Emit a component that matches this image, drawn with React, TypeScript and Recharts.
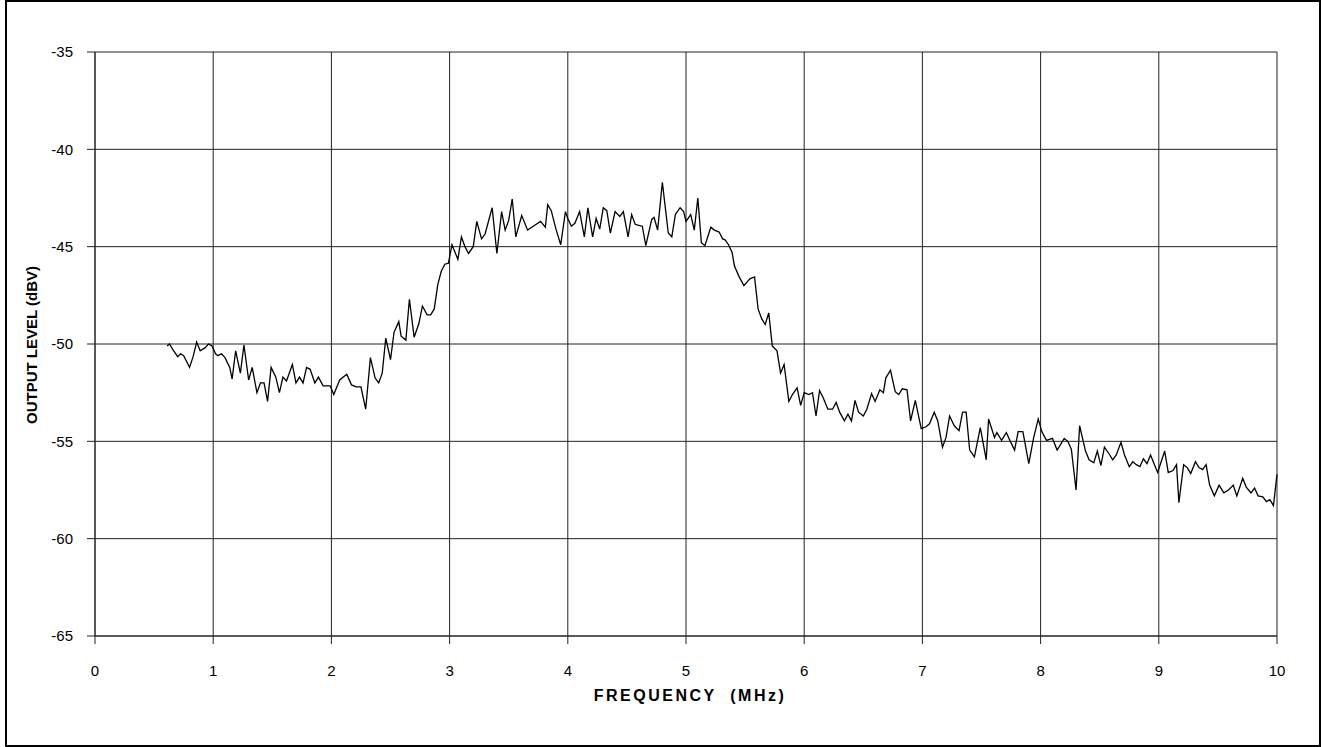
import { LineChart, Line, XAxis, YAxis, CartesianGrid } from 'recharts'

const freqMHz = [
  0.61, 0.63, 0.66, 0.7, 0.725, 0.75, 0.8, 0.83, 0.86, 0.89, 0.93, 0.96, 0.99,
  1.02, 1.04, 1.07, 1.1, 1.14, 1.16, 1.19, 1.23, 1.26, 1.3, 1.33, 1.37, 1.4, 1.43,
  1.46, 1.49, 1.53, 1.56, 1.59, 1.62, 1.67, 1.7, 1.73, 1.76, 1.79, 1.82, 1.86,
  1.89, 1.93, 1.99, 2.02, 2.07, 2.13, 2.17, 2.21, 2.25, 2.29, 2.33, 2.37, 2.4,
  2.43, 2.46, 2.5, 2.53, 2.57, 2.59, 2.63, 2.66, 2.7, 2.74, 2.77, 2.81, 2.84,
  2.87, 2.9, 2.93, 2.96, 2.99, 3.02, 3.07, 3.1, 3.13, 3.16, 3.2, 3.23, 3.27, 3.3,
  3.36, 3.4, 3.44, 3.47, 3.5, 3.53, 3.56, 3.61, 3.66, 3.72, 3.77, 3.81, 3.83,
  3.86, 3.9, 3.94, 3.98, 4.0, 4.03, 4.06, 4.1, 4.14, 4.17, 4.21, 4.24, 4.27, 4.3,
  4.33, 4.36, 4.4, 4.44, 4.47, 4.51, 4.54, 4.57, 4.6, 4.63, 4.66, 4.71, 4.73,
  4.76, 4.8, 4.85, 4.88, 4.91, 4.95, 4.98, 5.0, 5.04, 5.07, 5.1, 5.13, 5.16, 5.21,
  5.24, 5.28, 5.31, 5.33, 5.36, 5.39, 5.41, 5.45, 5.49, 5.54, 5.58, 5.61, 5.64,
  5.67, 5.7, 5.73, 5.77, 5.8, 5.83, 5.87, 5.9, 5.94, 5.97, 6.0, 6.04, 6.07, 6.1,
  6.13, 6.16, 6.2, 6.24, 6.27, 6.3, 6.34, 6.37, 6.4, 6.43, 6.46, 6.5, 6.53, 6.57,
  6.6, 6.64, 6.67, 6.69, 6.73, 6.77, 6.8, 6.83, 6.87, 6.9, 6.94, 6.99, 7.03, 7.06,
  7.1, 7.13, 7.17, 7.2, 7.23, 7.27, 7.31, 7.34, 7.37, 7.4, 7.44, 7.49, 7.54, 7.56,
  7.61, 7.63, 7.67, 7.71, 7.74, 7.78, 7.81, 7.85, 7.9, 7.94, 7.98, 8.01, 8.05,
  8.1, 8.14, 8.2, 8.23, 8.26, 8.3, 8.33, 8.38, 8.41, 8.45, 8.48, 8.51, 8.54, 8.58,
  8.61, 8.64, 8.68, 8.71, 8.75, 8.78, 8.81, 8.84, 8.87, 8.9, 8.93, 8.96, 8.99,
  9.02, 9.05, 9.08, 9.12, 9.15, 9.17, 9.21, 9.24, 9.27, 9.31, 9.34, 9.37, 9.4,
  9.43, 9.47, 9.51, 9.55, 9.59, 9.63, 9.66, 9.71, 9.74, 9.78, 9.81, 9.84, 9.88,
  9.91, 9.94, 9.97, 10.0,
]

const levelDbv = [
  -50.1, -50.0, -50.3, -50.65, -50.5, -50.6, -51.2, -50.65, -49.9, -50.35, -50.2,
  -50.0, -50.1, -50.5, -50.6, -50.5, -50.7, -51.2, -51.8, -50.35, -51.5, -50.05,
  -51.85, -51.2, -52.5, -52.0, -52.0, -52.95, -51.2, -51.7, -52.5, -51.7, -51.9,
  -51.05, -52.0, -51.7, -52.0, -51.2, -51.3, -52.0, -51.7, -52.15, -52.15, -52.6,
  -51.85, -51.55, -52.1, -52.2, -52.2, -53.35, -50.7, -51.75, -52.0, -51.5, -49.7,
  -50.8, -49.4, -48.85, -49.6, -49.8, -47.7, -49.65, -48.95, -48.05, -48.5, -48.5,
  -48.2, -46.95, -46.25, -45.9, -45.85, -44.9, -45.65, -44.5, -45.0, -45.35, -45.0,
  -43.7, -44.6, -44.35, -43.0, -45.35, -43.2, -44.15, -43.65, -42.55, -44.5, -43.4,
  -44.15, -43.9, -43.7, -44.0, -42.85, -43.15, -44.1, -44.9, -43.2, -43.55, -43.95,
  -43.8, -43.2, -44.5, -43.0, -44.5, -43.55, -44.1, -43.0, -43.15, -44.3, -43.2,
  -43.45, -43.2, -44.5, -43.35, -43.85, -43.9, -43.95, -44.95, -43.6, -43.5, -44.15,
  -41.7, -44.3, -44.5, -43.35, -43.0, -43.2, -43.7, -43.35, -44.15, -42.5, -44.8,
  -44.95, -44.0, -44.15, -44.25, -44.6, -44.65, -44.9, -45.3, -46.0, -46.55, -47.0,
  -46.65, -46.55, -48.2, -48.7, -49.0, -48.4, -50.1, -50.35, -51.5, -51.05, -52.95,
  -52.6, -52.25, -53.15, -52.5, -52.6, -52.5, -53.7, -52.4, -52.75, -53.35, -53.35,
  -53.0, -53.5, -53.95, -53.6, -53.95, -52.9, -53.5, -53.7, -53.35, -52.55, -52.95,
  -52.35, -52.5, -51.75, -51.35, -52.45, -52.6, -52.3, -52.35, -53.95, -52.9,
  -54.35, -54.25, -54.1, -53.5, -53.95, -55.3, -54.8, -53.7, -54.2, -54.45, -53.5,
  -53.5, -55.45, -55.8, -54.3, -55.95, -53.85, -54.8, -54.55, -54.95, -54.55,
  -54.95, -55.45, -54.5, -54.5, -56.15, -54.85, -53.85, -54.5, -54.95, -54.85,
  -55.45, -54.85, -55.0, -55.4, -57.5, -54.2, -55.5, -55.95, -56.1, -55.5, -56.25,
  -55.3, -55.65, -55.95, -55.7, -55.05, -55.7, -56.3, -56.05, -56.2, -56.3, -55.9,
  -56.15, -55.7, -56.15, -56.6, -56.05, -55.5, -56.6, -56.5, -56.2, -58.15, -56.2,
  -56.35, -56.65, -56.05, -56.35, -56.45, -56.2, -57.25, -57.8, -57.25, -57.65,
  -57.5, -57.25, -57.8, -56.9, -57.35, -57.65, -57.4, -57.8, -57.85, -58.1, -58.0,
  -58.3, -56.7,
]

const xTicks = [0, 1, 2, 3, 4, 5, 6, 7, 8, 9, 10]
const yTicks = [-65, -60, -55, -50, -45, -40, -35]

const data = freqMHz.map((f, i) => ({ f, level: levelDbv[i] }))

const FONT = '"Liberation Sans", Arial, Helvetica, sans-serif'
const GRID = '#222'

export default function App() {
  return (
    <div style={{ position: 'absolute', left: 0, top: 0, width: 1321, height: 747, background: '#fff', fontFamily: FONT }}>
      {/* outer frame */}
      <div style={{ position: 'absolute', left: 5, top: 0, width: 1312, height: 743, border: '2px solid #000' }} />

      <div style={{ position: 'absolute', left: 0, top: 0 }}>
        <LineChart
          width={1321}
          height={747}
          data={data}
          margin={{ top: 52, right: 44, left: 35, bottom: 81 }}
        >
          <CartesianGrid stroke={GRID} strokeWidth={1} />
          <XAxis
            type="number"
            dataKey="f"
            domain={[0, 10]}
            ticks={xTicks}
            interval={0}
            height={30}
            tickSize={8}
            tickMargin={21}
            stroke={GRID}
            tick={{ fontSize: 15, fill: '#000', fontFamily: FONT }}
          />
          <YAxis
            type="number"
            domain={[-65, -35]}
            ticks={yTicks}
            interval={0}
            width={60}
            tickSize={8}
            tickMargin={14}
            stroke={GRID}
            tick={{ fontSize: 15, fill: '#000', fontFamily: FONT }}
          />
          <Line
            type="linear"
            dataKey="level"
            stroke="#000"
            strokeWidth={1.3}
            dot={false}
            isAnimationActive={false}
          />
        </LineChart>
      </div>

      <div
        style={{
          position: 'absolute',
          left: 440,
          width: 500,
          top: 687,
          textAlign: 'center',
          fontWeight: 'bold',
          fontSize: 16,
          letterSpacing: 2.5,
          whiteSpace: 'pre',
        }}
      >
        {'FREQUENCY  (MHz)'}
      </div>
      <div
        style={{
          position: 'absolute',
          left: 31,
          top: 345,
          transform: 'translate(-50%, -50%) rotate(-90deg)',
          fontWeight: 'bold',
          fontSize: 15,
          whiteSpace: 'nowrap',
        }}
      >
        OUTPUT LEVEL (dBV)
      </div>
    </div>
  )
}
